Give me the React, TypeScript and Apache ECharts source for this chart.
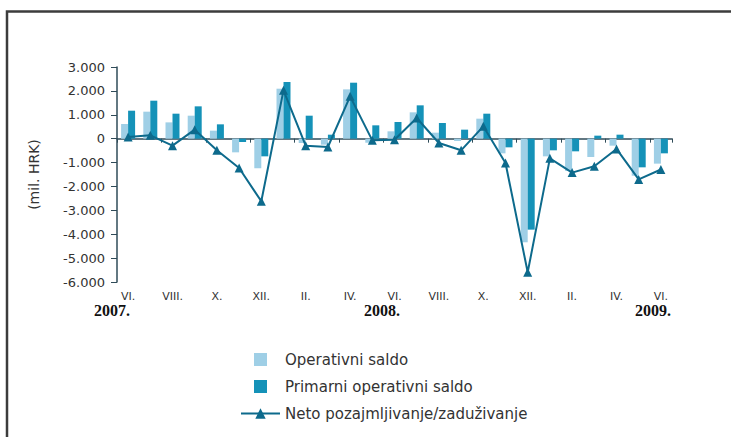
import React, { useEffect, useRef } from "react";
import * as echarts from "echarts";

const months = [
  "VI.", "VII.", "VIII.", "IX.", "X.", "XI.", "XII.",
  "I.", "II.", "III.", "IV.", "V.", "VI.", "VII.", "VIII.", "IX.", "X.", "XI.", "XII.",
  "I.", "II.", "III.", "IV.", "V.", "VI.",
];
const operativniSaldo = [615, 1130, 682, 962, 335, -572, -1242, 2092, -181, -251, 2064, -170, 307, 1102, 251, -98, 837, -614, -4338, -740, -1350, -767, -293, -1550, -1046];
const primarniSaldo = [1171, 1590, 1046, 1353, 600, -139, -740, 2371, 962, 167, 2343, 558, 697, 1395, 655, 377, 1046, -363, -3808, -488, -530, 126, 167, -1200, -614];
const netoPozajmljivanje = [70, 140, -293, 377, -488, -1227, -2622, 2022, -293, -348, 1771, -70, -42, 865, -181, -488, 516, -1018, -5593, -823, -1420, -1158, -430, -1705, -1290];
const years = [
  { text: "2007.", x: 112 },
  { text: "2008.", x: 382 },
  { text: "2009.", x: 653 },
];

const fmt = (v: number) => {
  const a = Math.abs(v);
  const s = a >= 1000 ? Math.floor(a / 1000) + "." + String(a % 1000).padStart(3, "0") : String(a);
  return (v < 0 ? "-" : "") + s;
};

export default function App() {
  const ref = useRef<HTMLDivElement>(null);
  useEffect(() => {
    document.body.style.margin = "0";
    const chart = echarts.init(ref.current!, null, { renderer: "svg" });
    const font = "DejaVu Sans";
    chart.setOption({
      animation: false,
      textStyle: { fontFamily: font },
      grid: { left: 117, right: 59, top: 67, bottom: 155 },
      legend: {
        orient: "vertical",
        left: 235,
        top: 346,
        itemWidth: 39,
        itemHeight: 13,
        itemGap: 10,
        symbolKeepAspect: true,
        textStyle: { fontFamily: font, fontSize: 15, color: "#333", lineHeight: 17, padding: [0, 0, 0, 0] },
        data: [
          { name: "Operativni saldo", icon: "path://M0,0H10V10H0Z" },
          { name: "Primarni operativni saldo", icon: "path://M0,0H10V10H0Z" },
          { name: "Neto pozajmljivanje/zaduživanje" },
        ],
      },
      xAxis: [
        {
          type: "category",
          data: months,
          position: "bottom",
          axisLine: { show: false, onZero: false },
          axisTick: { show: false },
          axisLabel: { interval: 1, fontSize: 11, color: "#333", fontFamily: font, margin: 9 },
        },
        {
          type: "category",
          data: months,
          position: "bottom",
          axisLine: { show: true, onZero: true, lineStyle: { color: "#2f4b58", width: 1.5 } },
          axisTick: { show: true, length: 4, inside: false, lineStyle: { color: "#2f4b58" } },
          axisLabel: { show: false },
        },
      ],
      yAxis: {
        type: "value",
        min: -6000,
        max: 3000,
        interval: 1000,
        name: "(mil. HRK)",
        nameLocation: "middle",
        nameRotate: 90,
        nameGap: 76,
        nameTextStyle: { fontSize: 14, color: "#333", fontFamily: font },
        splitLine: { show: false },
        axisLine: { show: true, lineStyle: { color: "#2f4b58", width: 1.5 } },
        axisTick: { show: true, length: 6, lineStyle: { color: "#2f4b58" } },
        axisLabel: { fontSize: 13, color: "#333", fontFamily: font, margin: 12, formatter: (v: number) => fmt(v) },
      },
      series: [
        {
          name: "Operativni saldo",
          type: "bar",
          data: operativniSaldo,
          barWidth: 7,
          barGap: "0%",
          itemStyle: { color: "#9fcfe6" },
        },
        {
          name: "Primarni operativni saldo",
          type: "bar",
          data: primarniSaldo,
          barWidth: 7,
          barGap: "0%",
          itemStyle: { color: "#1592b8" },
        },
        {
          name: "Neto pozajmljivanje/zaduživanje",
          type: "line",
          data: netoPozajmljivanje,
          symbol: "triangle",
          symbolSize: 9,
          lineStyle: { color: "#0d6a8c", width: 2 },
          itemStyle: { color: "#0d6a8c" },
          z: 5,
        },
      ],
      graphic: [
        {
          type: "rect",
          shape: { x: 7, y: 11.5, width: 800, height: 500 },
          style: { fill: "none", stroke: "#3c3c3c", lineWidth: 2.5 },
          silent: true,
        },
        ...years.map((y) => ({
          type: "text",
          x: y.x,
          y: 310,
          style: {
            text: y.text,
            font: "bold 16px 'Liberation Serif'",
            fill: "#111",
            textAlign: "center",
            textVerticalAlign: "middle",
          },
        })),
      ],
    });
    return () => chart.dispose();
  }, []);
  return <div ref={ref} style={{ width: 731, height: 437 }} />;
}
